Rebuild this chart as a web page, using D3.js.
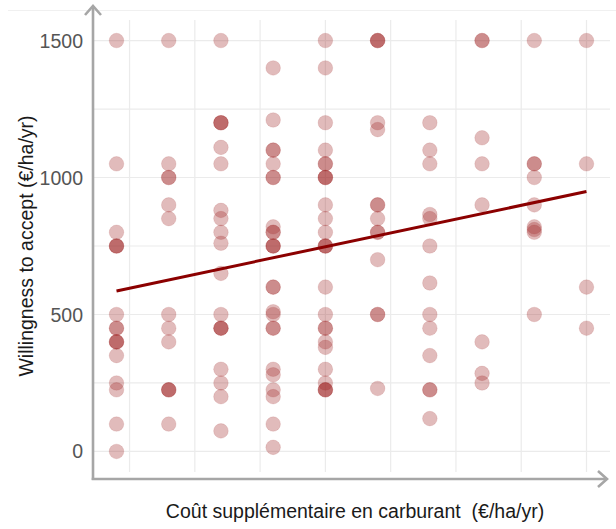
<!DOCTYPE html>
<html>
<head>
<meta charset="utf-8">
<script src="https://cdn.jsdelivr.net/npm/d3@7"></script>
<style>
  html, body { margin: 0; padding: 0; background: #fff; }
  svg { display: block; }
  text { white-space: pre; }
</style>
</head>
<body>
<svg id="chart" width="616" height="529"></svg>
<script>
// ---- data ----
const costLevels = [20, 40, 60, 80, 100, 120, 140, 160, 180, 200];
const wtaCol1  = [1500, 1050, 800, 750, 750, 750, 500, 450, 450, 400, 400, 400, 350, 250, 225, 100, 0];
const wtaCol2  = [1500, 1050, 1000, 1000, 900, 850, 500, 450, 400, 225, 225, 225, 100];
const wtaCol3  = [1500, 1200, 1200, 1200, 1110, 1050, 880, 850, 800, 760, 650, 500, 450, 450, 450, 300, 250, 200, 75];
const wtaCol4  = [1400, 1210, 1100, 1100, 1050, 1000, 1000, 820, 800, 800, 750, 750, 750, 600, 600, 510, 500, 450, 450, 300, 280, 225, 200, 100, 15];
const wtaCol5  = [1500, 1400, 1200, 1100, 1050, 1050, 1000, 1000, 1000, 900, 850, 800, 750, 750, 750, 600, 500, 450, 450, 400, 380, 300, 250, 225, 225, 225];
const wtaCol6  = [1500, 1500, 1500, 1200, 1175, 900, 900, 850, 800, 800, 700, 500, 500, 230];
const wtaCol7  = [1200, 1100, 1050, 865, 850, 750, 615, 500, 450, 350, 225, 225, 120];
const wtaCol8  = [1500, 1500, 1145, 1050, 900, 400, 285, 250];
const wtaCol9  = [1500, 1050, 1050, 1000, 900, 820, 810, 800, 500];
const wtaCol10 = [1500, 1050, 600, 450];
const wtaColumns = [wtaCol1, wtaCol2, wtaCol3, wtaCol4, wtaCol5, wtaCol6, wtaCol7, wtaCol8, wtaCol9, wtaCol10];
const fitX = [20, 200];
const fitY = [586, 949];
const yTicks = [0, 500, 1000, 1500];
const yGrid = [0, 250, 500, 750, 1000, 1250, 1500];
const xGrid = [25, 50, 75, 100, 125, 150, 175, 200];
const xTitle = "Coût supplémentaire en carburant  (€/ha/yr)";
const yTitle = "Willingness to accept (€/ha/yr)";

// ---- build ----
const points = [];
costLevels.forEach((c, i) => wtaColumns[i].forEach(v => points.push({x: c, y: v})));
const fit = fitX.map((xv, i) => ({x: xv, y: fitY[i]}));

const svg = d3.select("#chart");
const pLeft = 93, pRight = 610, pTop = 20, pBottom = 472;
const x = d3.scaleLinear().domain([11, 209]).range([pLeft, pRight]);
const y = d3.scaleLinear().domain([-75, 1575]).range([pBottom, pTop]);
const font = "Liberation Sans, Arial, sans-serif";

// faint top border line
svg.append("line").attr("x1", 8).attr("x2", 616).attr("y1", 10.5).attr("y2", 10.5)
  .attr("stroke", "#f0f0f0").attr("stroke-width", 1);

// grid
const grid = svg.append("g");
grid.selectAll("line.h").data(yGrid).join("line").attr("class", "h")
  .attr("x1", pLeft).attr("x2", pRight)
  .attr("y1", d => y(d)).attr("y2", d => y(d))
  .attr("stroke", "#ebebeb").attr("stroke-width", 1.2);
grid.selectAll("line.v").data(xGrid).join("line").attr("class", "v")
  .attr("y1", pTop).attr("y2", pBottom)
  .attr("x1", d => x(d)).attr("x2", d => x(d))
  .attr("stroke", "#ebebeb").attr("stroke-width", 1.2);

// points
svg.append("g").selectAll("circle").data(points).join("circle")
  .attr("cx", d => x(d.x)).attr("cy", d => y(d.y)).attr("r", 7.3)
  .attr("fill", "#9e2424").attr("fill-opacity", 0.31)
  .attr("stroke", "#9e2424").attr("stroke-opacity", 0.12).attr("stroke-width", 1);

// regression line
svg.append("path").datum(fit)
  .attr("d", d3.line().x(d => x(d.x)).y(d => y(d.y)))
  .attr("stroke", "#8b0000").attr("stroke-width", 3).attr("fill", "none");

// axes with arrows
const axisColor = "#a6a6a6";
const ax = svg.append("g").attr("stroke", axisColor).attr("stroke-width", 2.6).attr("fill", "none");
ax.append("line").attr("x1", pLeft).attr("x2", pLeft).attr("y1", 480).attr("y2", 6);
ax.append("line").attr("x1", pLeft - 1.3).attr("x2", 607).attr("y1", 479).attr("y2", 479);
ax.append("path").attr("d", `M${pLeft - 8},${15} L${pLeft},${6} L${pLeft + 8},${15}`);
ax.append("path").attr("d", `M${598},${471} L${607},${479} L${598},${487}`);

// y tick labels
svg.append("g").selectAll("text").data(yTicks).join("text")
  .attr("x", 83).attr("y", d => y(d)).attr("dy", "0.36em")
  .attr("text-anchor", "end")
  .attr("font-family", font).attr("font-size", 19.5)
  .attr("fill", "#555555").text(d => d);

// titles
svg.append("text").attr("x", 355).attr("y", 518)
  .attr("text-anchor", "middle")
  .attr("font-family", font).attr("font-size", 19.5)
  .attr("fill", "#1a1a1a").text(xTitle);
svg.append("text")
  .attr("transform", `translate(33,${(pTop + pBottom) / 2}) rotate(-90)`)
  .attr("text-anchor", "middle")
  .attr("font-family", font).attr("font-size", 19.5)
  .attr("fill", "#1a1a1a").text(yTitle);
</script>
</body>
</html>
